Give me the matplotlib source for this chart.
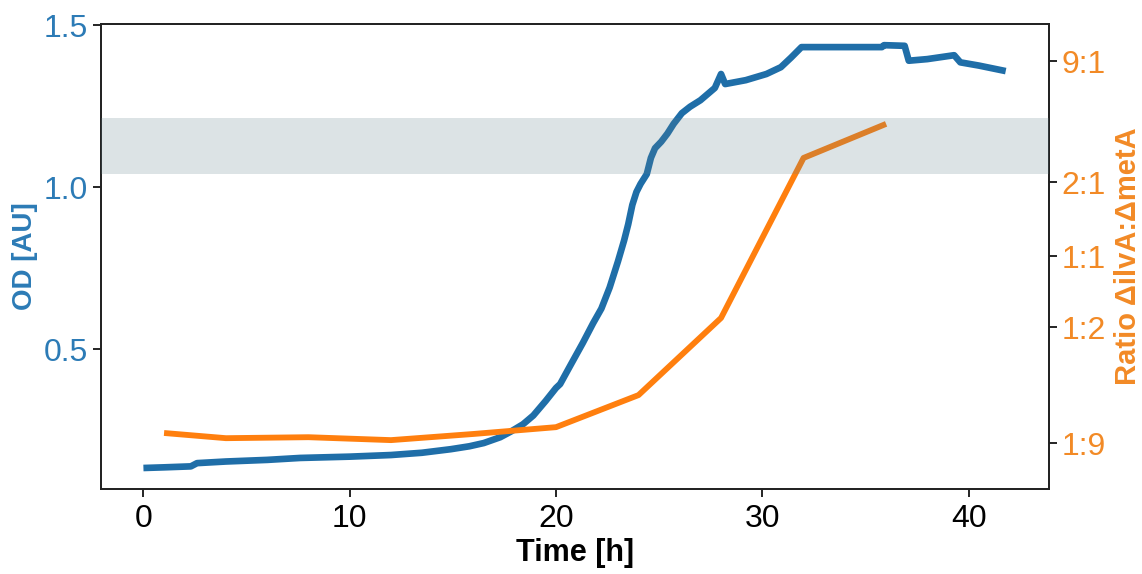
import matplotlib
matplotlib.use("Agg")
import matplotlib.pyplot as plt

plt.rcParams['font.family'] = ['Liberation Sans', 'DejaVu Sans']

# OD time course (blue)
od_time = [0, 1, 2.3, 2.6, 4, 6, 7.6, 10, 12, 13.5, 14.9, 15.8, 16.5, 17.3, 17.8,
           18.4, 18.9, 19.5, 20.0, 20.2, 20.7, 21.3, 21.8, 22.2, 22.6, 23.0, 23.3,
           23.5, 23.7, 23.9, 24.1, 24.4, 24.6, 24.8, 25.1, 25.4, 25.7, 26.1, 26.5,
           27.0, 27.7, 28.0, 28.2, 29.2, 30.2, 30.9, 31.4, 31.9, 35.8, 35.9, 36.9,
           37.1, 38.0, 39.3, 39.6, 40.5, 41.8]
od_values = [0.133, 0.135, 0.138, 0.148, 0.153, 0.158, 0.164, 0.168, 0.173, 0.180,
             0.191, 0.200, 0.210, 0.228, 0.245, 0.268, 0.295, 0.340, 0.380, 0.392,
             0.450, 0.519, 0.580, 0.625, 0.690, 0.770, 0.835, 0.885, 0.945, 0.985,
             1.010, 1.040, 1.090, 1.120, 1.140, 1.165, 1.195, 1.228, 1.248, 1.268,
             1.306, 1.349, 1.318, 1.330, 1.349, 1.370, 1.400, 1.432, 1.432, 1.438,
             1.436, 1.390, 1.395, 1.407, 1.385, 1.375, 1.358]

# Ratio time course (orange), in right-axis units
ratio_time = [1, 4, 8, 12, 16, 20, 24, 28, 32, 36]
ratio_values = [0.241, 0.225, 0.228, 0.219, 0.238, 0.259, 0.358, 0.596, 1.090, 1.195]

# Right axis ticks
ratio_ticks = [0.21, 0.568, 0.787, 1.015, 1.389]
ratio_labels = ['1:9', '1:2', '1:1', '2:1', '9:1']

od_ticks = [0.5, 1.0, 1.5]
time_ticks = [0, 10, 20, 30, 40]

band = (1.040, 1.214)

BLUE = '#1f6ea8'
BLUE_TXT = '#2c7bb6'
ORANGE = '#ff7f0e'
ORANGE_TXT = '#f28a26'

fig = plt.figure(figsize=(11.42, 5.74), dpi=100)
ax = fig.add_axes([0.0882, 0.148, 0.8304, 0.810])
ax2 = ax.twinx()

ax.plot(od_time, od_values, color=BLUE, lw=4.8, solid_capstyle='butt', zorder=2)
ax2.plot(ratio_time, ratio_values, color=ORANGE, lw=4.2, solid_capstyle='butt', zorder=2)
ax2.axhspan(band[0], band[1], color='#60808a', alpha=0.22, lw=0, zorder=3)

ylim = (0.068, 1.503)
ax.set_ylim(*ylim)
ax2.set_ylim(*ylim)
ax.set_xlim(-2.07, 43.9)

ax.set_xticks(time_ticks)
ax.set_yticks(od_ticks)
ax.set_yticklabels(['0.5', '1.0', '1.5'])
ax2.set_yticks(ratio_ticks)
ax2.set_yticklabels(ratio_labels)

ax.tick_params(axis='x', labelsize=23, colors='black', length=6, width=1.2, direction='out', pad=5)
ax.tick_params(axis='y', labelsize=23, length=6, width=1.2, direction='out', pad=3,
               color='black', labelcolor=BLUE_TXT)
ax2.tick_params(axis='y', labelsize=23, length=6, width=1.2, direction='out', pad=3,
                color='black', labelcolor=ORANGE_TXT)

for a in (ax, ax2):
    for s in a.spines.values():
        s.set_linewidth(1.3)
        s.set_color('#222222')

ax.set_xlabel('Time [h]', fontsize=22, fontweight='bold', labelpad=3)
ax.set_ylabel('OD [AU]', fontsize=20, fontweight='bold', color=BLUE_TXT, labelpad=4)
ax2.set_ylabel('Ratio ΔilvA:ΔmetA', fontsize=21, fontweight='bold', color=ORANGE_TXT, labelpad=6)

fig.savefig('out.png', dpi=100)
